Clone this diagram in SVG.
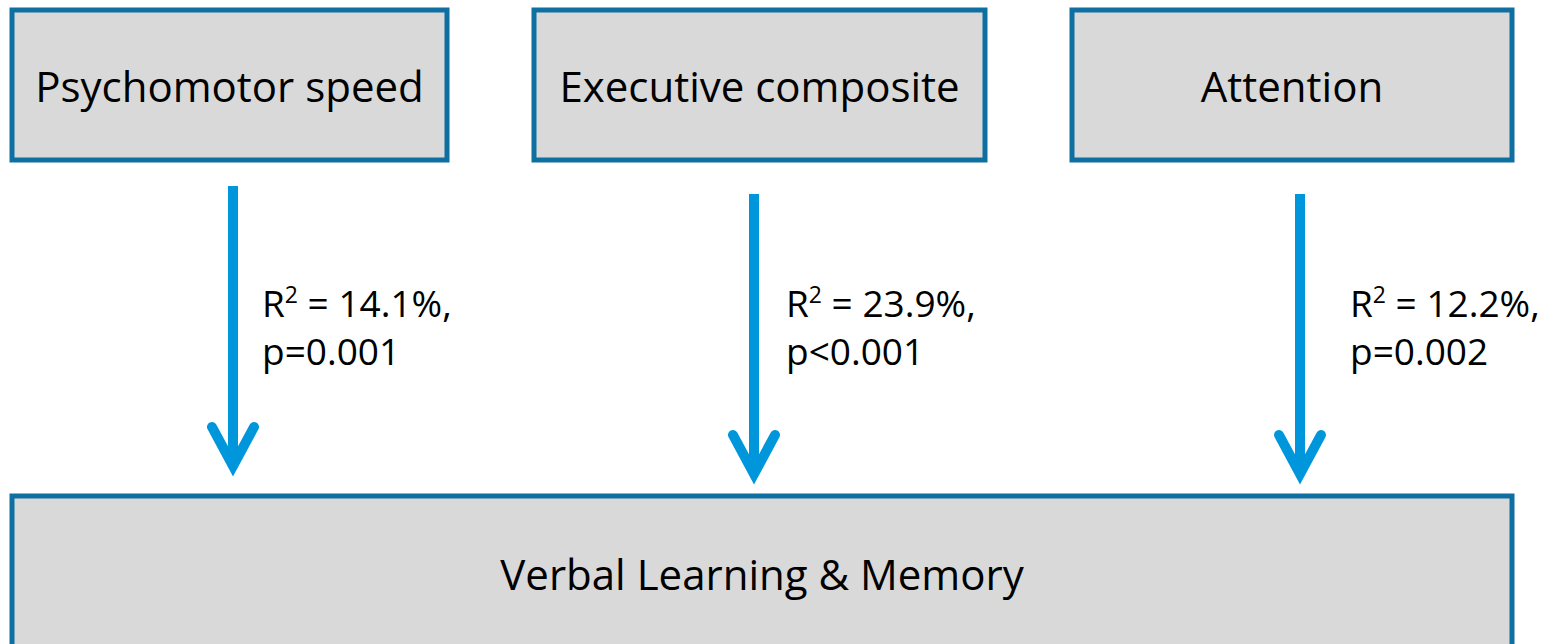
<svg xmlns="http://www.w3.org/2000/svg" width="1550" height="644" viewBox="0 0 1550 644">
<style>
.box{fill:#d9d9d9;stroke:#0e6fa1;stroke-width:5}
.t{font-family:"Open Sans","Liberation Sans",sans-serif;font-size:42px;fill:#000}
.l{font-family:"Open Sans","Liberation Sans",sans-serif;font-size:37px;fill:#000}
.c{text-anchor:middle}
.arr{stroke:#0096db;stroke-width:10;fill:none;stroke-linecap:butt}
.head{stroke:#0096db;stroke-width:10;fill:none;stroke-linecap:round;stroke-linejoin:miter}
</style>
<g id="psychomotor">
<rect class="box" x="12" y="10" width="435" height="150"/>
<text class="t c" x="229.5" y="102">Psychomotor speed</text>
</g>
<g id="executive">
<rect class="box" x="534" y="10" width="451" height="150"/>
<text class="t c" x="759.5" y="102">Executive composite</text>
</g>
<g id="attention">
<rect class="box" x="1072" y="10" width="440" height="150"/>
<text class="t c" x="1292" y="102">Attention</text>
</g>
<g id="verbal">
<rect class="box" x="12" y="496" width="1500" height="160"/>
<text class="t c" x="762" y="590">Verbal Learning &amp; Memory</text>
</g>
<g id="connectors">
<line class="arr" x1="233" y1="186" x2="233" y2="466"/>
<polyline class="head" points="212,427 233,466 254,427"/>
<line class="arr" x1="754" y1="194" x2="754" y2="474"/>
<polyline class="head" points="733,435 754,474 775,435"/>
<line class="arr" x1="1300" y1="194" x2="1300" y2="474"/>
<polyline class="head" points="1279,435 1300,474 1321,435"/>
</g>
<g id="labels">
<text class="l" x="262" y="317">R<tspan font-size="23" dy="-14">2</tspan><tspan dy="14"> = 14.1%,</tspan></text>
<text class="l" x="262" y="365">p=0.001</text>
<text class="l" x="786" y="317">R<tspan font-size="23" dy="-14">2</tspan><tspan dy="14"> = 23.9%,</tspan></text>
<text class="l" x="786" y="365">p&lt;0.001</text>
<text class="l" x="1350" y="317">R<tspan font-size="23" dy="-14">2</tspan><tspan dy="14"> = 12.2%,</tspan></text>
<text class="l" x="1350" y="365">p=0.002</text>
</g>
</svg>
